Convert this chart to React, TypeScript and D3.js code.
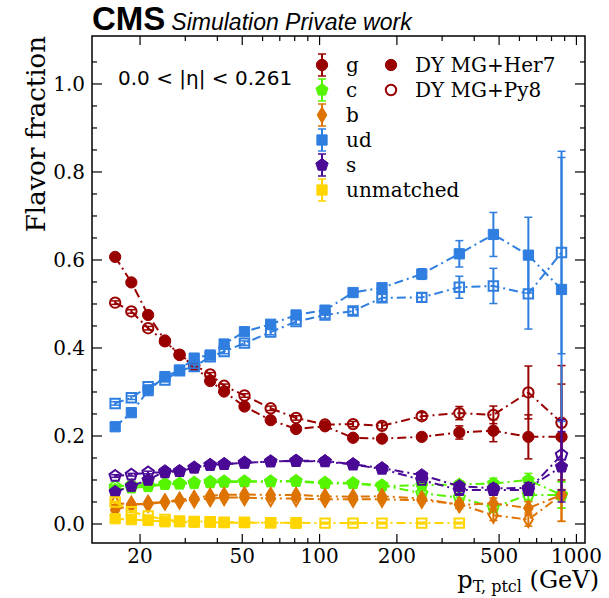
import { useEffect, useRef } from "react";
import * as d3 from "d3";

const W = 609;
const H = 598;

// bin centres in pT (GeV)
const PT = [16, 18.5, 21.5, 25, 28.5, 32.5, 37.5, 42.5, 51, 64.5, 81, 105, 135, 175, 250, 350, 475, 650, 875];

const G_HER7 = [0.607, 0.549, 0.475, 0.417, 0.384, 0.359, 0.325, 0.301, 0.267, 0.236, 0.216, 0.222, 0.196, 0.194, 0.198, 0.208, 0.212, 0.198, 0.198];
const G_HER7_ERR = [0.004, 0.004, 0.004, 0.004, 0.004, 0.004, 0.004, 0.004, 0.004, 0.005, 0.005, 0.006, 0.006, 0.007, 0.008, 0.015, 0.025, 0.05, 0.12];
const G_PY8 = [0.503, 0.483, 0.445, 0.415, 0.385, 0.362, 0.34, 0.314, 0.292, 0.263, 0.241, 0.226, 0.227, 0.223, 0.245, 0.252, 0.248, 0.299, 0.23];
const G_PY8_ERR = [0.004, 0.004, 0.004, 0.004, 0.004, 0.004, 0.004, 0.004, 0.004, 0.005, 0.005, 0.006, 0.006, 0.007, 0.008, 0.015, 0.02, 0.06, 0.13];

const C_HER7 = [0.078, 0.082, 0.085, 0.09, 0.091, 0.092, 0.094, 0.095, 0.096, 0.096, 0.097, 0.092, 0.092, 0.086, 0.088, 0.09, 0.092, 0.1, 0.066];
const C_PY8 = [0.085, 0.088, 0.088, 0.091, 0.092, 0.094, 0.096, 0.097, 0.097, 0.097, 0.098, 0.094, 0.093, 0.088, 0.07, 0.06, 0.038, 0.066, 0.066];
const C_ERR = [0.003, 0.003, 0.003, 0.003, 0.003, 0.003, 0.003, 0.003, 0.003, 0.003, 0.003, 0.003, 0.004, 0.004, 0.005, 0.008, 0.012, 0.015, 0.03];

const B_HER7 = [0.032, 0.043, 0.048, 0.05, 0.055, 0.059, 0.064, 0.066, 0.067, 0.066, 0.066, 0.063, 0.062, 0.063, 0.058, 0.043, 0.047, 0.036, 0.066];
const B_PY8 = [0.047, 0.045, 0.045, 0.05, 0.052, 0.055, 0.058, 0.06, 0.06, 0.058, 0.058, 0.056, 0.056, 0.056, 0.054, 0.045, 0.02, 0.01, 0.066];
const B_ERR = [0.003, 0.003, 0.003, 0.003, 0.003, 0.003, 0.003, 0.003, 0.003, 0.003, 0.003, 0.003, 0.004, 0.004, 0.005, 0.008, 0.012, 0.015, 0.06];

const UD_HER7 = [0.221, 0.253, 0.303, 0.335, 0.35, 0.377, 0.384, 0.409, 0.437, 0.454, 0.475, 0.486, 0.526, 0.537, 0.568, 0.614, 0.658, 0.611, 0.533];
const UD_HER7_ERR = [0.004, 0.004, 0.004, 0.004, 0.004, 0.004, 0.004, 0.005, 0.005, 0.006, 0.006, 0.007, 0.008, 0.009, 0.012, 0.03, 0.05, 0.086, 0.3];
const UD_PY8 = [0.274, 0.287, 0.312, 0.327, 0.348, 0.358, 0.38, 0.392, 0.411, 0.436, 0.46, 0.475, 0.484, 0.514, 0.515, 0.538, 0.541, 0.523, 0.617];
const UD_PY8_ERR = [0.004, 0.004, 0.004, 0.004, 0.004, 0.004, 0.004, 0.005, 0.005, 0.006, 0.006, 0.007, 0.008, 0.008, 0.01, 0.025, 0.04, 0.08, 0.23];

const S_HER7 = [0.073, 0.086, 0.1, 0.12, 0.12, 0.128, 0.134, 0.136, 0.139, 0.142, 0.144, 0.143, 0.136, 0.127, 0.111, 0.086, 0.081, 0.082, 0.13];
const S_PY8 = [0.109, 0.112, 0.117, 0.117, 0.12, 0.128, 0.134, 0.136, 0.139, 0.142, 0.143, 0.142, 0.135, 0.125, 0.1, 0.077, 0.077, 0.077, 0.157];
const S_ERR = [0.003, 0.003, 0.003, 0.003, 0.003, 0.003, 0.003, 0.003, 0.003, 0.003, 0.003, 0.003, 0.004, 0.004, 0.005, 0.008, 0.01, 0.012, 0.08];

const UNM_HER7 = [0.012, 0.01, 0.008, 0.005, 0.005, 0.004, 0.004, 0.003, 0.003, 0.003, 0.002, null, null, null, null, null, null, null, null];
const UNM_PY8 = [0.05, 0.028, 0.018, 0.01, 0.007, 0.006, 0.005, 0.004, 0.004, 0.003, 0.003, 0.002, 0.002, 0.002, 0.002, 0.002, null, null, null];
const UNM_ERR = [0.002, 0.002, 0.002, 0.002, 0.002, 0.002, 0.002, 0.002, 0.002, 0.002, 0.002, 0.002, 0.002, 0.002, 0.002, 0.002, 0, 0, 0];

const FLAVOURS = ["g", "c", "b", "ud", "s", "unmatched"];
const COLORS = ["#990000", "#55f500", "#dd7300", "#2f7ee0", "#4a0a96", "#ffd500"];
const SAMPLES = ["DY MG+Her7", "DY MG+Py8"];
const X_TICK_LABELS = [20, 50, 100, 200, 500, 1000];

const pentagon = {
  draw(ctx: any, size: number) {
    const r = Math.sqrt(size / 2.378);
    for (let i = 0; i < 5; i++) {
      const a = -Math.PI / 2 + (i * 2 * Math.PI) / 5;
      const px = r * Math.cos(a), py = r * Math.sin(a);
      if (i === 0) ctx.moveTo(px, py);
      else ctx.lineTo(px, py);
    }
    ctx.closePath();
  },
};

// tall, narrow diamond (matplotlib "d")
const thinDiamond = {
  draw(ctx: any, size: number) {
    const h = Math.sqrt(size / 1.2);
    const w = h * 0.6;
    ctx.moveTo(0, -h);
    ctx.lineTo(w, 0);
    ctx.lineTo(0, h);
    ctx.lineTo(-w, 0);
    ctx.closePath();
  },
};

const SYMBOLS: any[] = [d3.symbolCircle, pentagon, thinDiamond, d3.symbolSquare, pentagon, d3.symbolSquare];
const SIZES = [100, 95, 80, 105, 100, 105];

const margin = { top: 36, right: 24, bottom: 55, left: 92 };

export default function App() {
  const svgRef = useRef<SVGSVGElement>(null);

  useEffect(() => {
    if (!svgRef.current) return;
    const svg = d3.select(svgRef.current);
    svg.selectAll("*").remove();

    const x = d3.scaleLog().domain([13, 1080]).range([margin.left, W - margin.right]);
    const y = d3.scaleLinear().domain([-0.0432, 1.109]).range([H - margin.bottom, margin.top]);
    const [x0, x1] = x.range();
    const [y0, y1] = y.range();

    const series = [
      [G_HER7, G_HER7_ERR, G_PY8, G_PY8_ERR],
      [C_HER7, C_ERR, C_PY8, C_ERR],
      [B_HER7, B_ERR, B_PY8, B_ERR],
      [UD_HER7, UD_HER7_ERR, UD_PY8, UD_PY8_ERR],
      [S_HER7, S_ERR, S_PY8, S_ERR],
      [UNM_HER7, UNM_ERR, UNM_PY8, UNM_ERR],
    ].map((s, i) => ({
      name: FLAVOURS[i],
      color: COLORS[i],
      symbol: SYMBOLS[i],
      size: SIZES[i],
      samples: [
        { vals: s[0] as (number | null)[], errs: s[1] as number[], open: false },
        { vals: s[2] as (number | null)[], errs: s[3] as number[], open: true },
      ],
    }));

    const plot = svg.append("g");
    const line = d3
      .line<{ pt: number; v: number | null }>()
      .defined((d) => d.v !== null)
      .x((d) => x(d.pt))
      .y((d) => y(d.v as number));

    series.forEach((s) => {
      s.samples.forEach((smp) => {
        const pts = PT.map((pt, i) => ({ pt, v: smp.vals[i], e: smp.errs[i] }));
        const g = plot.append("g");
        g.append("path")
          .datum(pts)
          .attr("d", line as any)
          .attr("fill", "none")
          .attr("stroke", s.color)
          .attr("stroke-width", 2)
          .attr("stroke-dasharray", "9,4,2,4");
        const valid = pts.filter((d) => d.v !== null);
        const eb = g.selectAll("g.eb").data(valid).enter().append("g");
        eb.append("line")
          .attr("x1", (d) => x(d.pt))
          .attr("x2", (d) => x(d.pt))
          .attr("y1", (d) => y((d.v as number) - d.e))
          .attr("y2", (d) => y((d.v as number) + d.e))
          .attr("stroke", s.color)
          .attr("stroke-width", 2);
        [-1, 1].forEach((sg) => {
          eb.append("line")
            .attr("x1", (d) => x(d.pt) - 4)
            .attr("x2", (d) => x(d.pt) + 4)
            .attr("y1", (d) => y((d.v as number) + sg * d.e))
            .attr("y2", (d) => y((d.v as number) + sg * d.e))
            .attr("stroke", s.color)
            .attr("stroke-width", 1.5);
        });
        g.selectAll("path.m")
          .data(valid)
          .enter()
          .append("path")
          .attr("d", d3.symbol().type(s.symbol).size(smp.open ? s.size * 0.85 : s.size) as any)
          .attr("transform", (d) => `translate(${x(d.pt)},${y(d.v as number)})`)
          .attr("fill", smp.open ? "none" : s.color)
          .attr("stroke", s.color)
          .attr("stroke-width", smp.open ? 2 : 1);
      });
    });

    // frame and inward ticks
    const axes = svg.append("g").attr("stroke", "#000");
    const yMajor = d3.range(0, 1.01, 0.2);
    const yMinor = d3.range(0.05, 1.1, 0.05).filter((v) => Math.abs(v / 0.2 - Math.round(v / 0.2)) > 0.01);
    yMajor.forEach((v) => {
      axes.append("line").attr("x1", x0).attr("x2", x0 + 10).attr("y1", y(v)).attr("y2", y(v));
      axes.append("line").attr("x1", x1).attr("x2", x1 - 10).attr("y1", y(v)).attr("y2", y(v));
    });
    yMinor.forEach((v) => {
      axes.append("line").attr("x1", x0).attr("x2", x0 + 5).attr("y1", y(v)).attr("y2", y(v));
      axes.append("line").attr("x1", x1).attr("x2", x1 - 5).attr("y1", y(v)).attr("y2", y(v));
    });
    const xMinor = [...d3.range(20, 100, 10), ...d3.range(200, 1000, 100), 100, 1000];
    xMinor.forEach((v) => {
      const len = X_TICK_LABELS.includes(v) ? 9 : 5;
      axes.append("line").attr("x1", x(v)).attr("x2", x(v)).attr("y1", y0).attr("y2", y0 - len);
      axes.append("line").attr("x1", x(v)).attr("x2", x(v)).attr("y1", y1).attr("y2", y1 + len);
    });
    axes.attr("stroke-width", 1.2);
    svg.append("rect")
      .attr("x", x0)
      .attr("y", y1)
      .attr("width", x1 - x0)
      .attr("height", y0 - y1)
      .attr("fill", "none")
      .attr("stroke", "#000")
      .attr("stroke-width", 1.5);

    const serif = "DejaVu Serif";
    svg.append("g")
      .selectAll("text")
      .data(yMajor)
      .enter()
      .append("text")
      .attr("x", x0 - 7)
      .attr("y", (d) => y(d))
      .attr("dy", "0.36em")
      .attr("text-anchor", "end")
      .style("font-family", serif)
      .style("font-size", "20px")
      .text((d) => d3.format(".1f")(d));

    svg.append("g")
      .selectAll("text")
      .data(X_TICK_LABELS)
      .enter()
      .append("text")
      .attr("x", (d) => x(d))
      .attr("y", y0 + 20)
      .attr("text-anchor", "middle")
      .style("font-family", serif)
      .style("font-size", "20px")
      .text((d) => String(d));

    // axis titles
    svg.append("text")
      .attr("transform", `translate(45,${y1}) rotate(-90)`)
      .attr("text-anchor", "end")
      .style("font-family", serif)
      .style("font-size", "26px")
      .text("Flavor fraction");

    const xl = svg.append("text")
      .attr("x", W - 10)
      .attr("y", H - 10)
      .attr("text-anchor", "end")
      .style("font-family", serif)
      .style("font-size", "24px");
    xl.append("tspan").text("p");
    xl.append("tspan").attr("dy", 4).style("font-size", "16px").text("T, ptcl");
    xl.append("tspan").attr("dy", -4).text(" (GeV)");

    // CMS header
    const hdr = svg.append("text").attr("x", x0).attr("y", 30);
    hdr.append("tspan")
      .style("font-family", "Liberation Sans")
      .style("font-weight", "bold")
      .style("font-size", "33px")
      .text("CMS");
    hdr.append("tspan")
      .attr("dx", 6)
      .style("font-family", "Liberation Sans")
      .style("font-style", "italic")
      .style("font-size", "23px")
      .text("Simulation Private work");

    svg.append("text")
      .attr("x", 118)
      .attr("y", 85)
      .style("font-family", "DejaVu Sans")
      .style("font-size", "20px")
      .text("0.0 < |η| < 0.261");

    // legends
    const leg = svg.append("g");
    series.forEach((s, i) => {
      const ly = 65 + i * 25;
      const lx = 322;
      leg.append("line").attr("x1", lx).attr("x2", lx).attr("y1", ly - 11).attr("y2", ly + 11)
        .attr("stroke", s.color).attr("stroke-width", 2);
      [-11, 11].forEach((o) =>
        leg.append("line").attr("x1", lx - 4).attr("x2", lx + 4).attr("y1", ly + o).attr("y2", ly + o)
          .attr("stroke", s.color).attr("stroke-width", 1.5)
      );
      leg.append("path")
        .attr("d", d3.symbol().type(s.symbol).size(s.size) as any)
        .attr("transform", `translate(${lx},${ly})`)
        .attr("fill", s.color)
        .attr("stroke", s.color);
      leg.append("text")
        .attr("x", 346)
        .attr("y", ly + 7)
        .style("font-family", serif)
        .style("font-size", "20px")
        .text(s.name);
    });
    SAMPLES.forEach((name, i) => {
      const ly = 65 + i * 25;
      leg.append("path")
        .attr("d", d3.symbol().type(d3.symbolCircle).size(i === 0 ? 100 : 85) as any)
        .attr("transform", `translate(391,${ly})`)
        .attr("fill", i === 0 ? COLORS[0] : "none")
        .attr("stroke", COLORS[0])
        .attr("stroke-width", i === 0 ? 1 : 2);
      leg.append("text")
        .attr("x", 415)
        .attr("y", ly + 7)
        .style("font-family", serif)
        .style("font-size", "20px")
        .text(name);
    });
  }, []);

  return (
    <div style={{ position: "absolute", left: 0, top: 0, background: "#fff" }}>
      <svg ref={svgRef} width={W} height={H} style={{ display: "block" }} />
    </div>
  );
}
